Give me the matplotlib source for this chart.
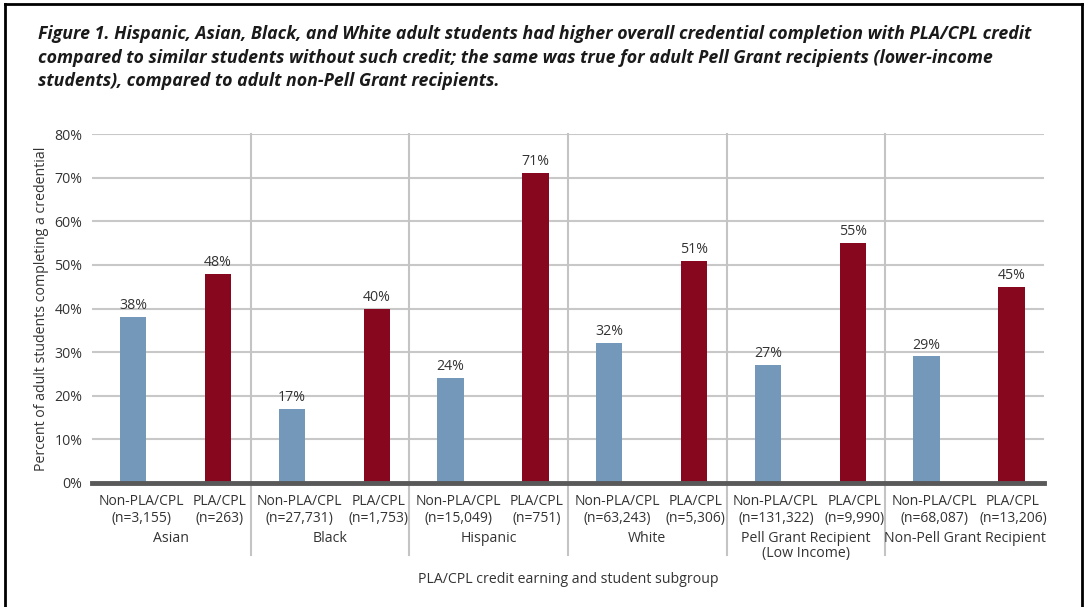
import numpy as np
import matplotlib.pyplot as plt
from matplotlib.lines import Line2D
import matplotlib.transforms as mtransforms

plt.rcParams['font.family'] = ['Open Sans', 'DejaVu Sans']

groups = ["Asian", "Black", "Hispanic", "White", "Pell Grant Recipient\n(Low Income)", "Non-Pell Grant Recipient"]
non_pla = [38, 17, 24, 32, 27, 29]
pla = [48, 40, 71, 51, 55, 45]
non_n = ["3,155", "27,731", "15,049", "63,243", "131,322", "68,087"]
pla_n = ["263", "1,753", "751", "5,306", "9,990", "13,206"]
yticks = [0, 10, 20, 30, 40, 50, 60, 70, 80]

title = ("Figure 1. Hispanic, Asian, Black, and White adult students had higher overall credential completion with PLA/CPL credit\n"
         "compared to similar students without such credit; the same was true for adult Pell Grant recipients (lower-income\n"
         "students), compared to adult non-Pell Grant recipients.")

blue = "#7398ba"
red = "#87081e"
txt = "#333333"
fs = 10.2

fig = plt.figure(figsize=(10.86, 6.07), dpi=100)
ax = fig.add_axes([0.0847, 0.2043, 0.8766, 0.5749])

x_non = np.arange(len(groups)) * 2
x_pla = x_non + 1
bw = 0.33
ax.bar(x_non + 0.02, non_pla, width=bw, color=blue, zorder=3)
ax.bar(x_pla + 0.09, pla, width=bw, color=red, zorder=3)

for xs, vals, off in [(x_non, non_pla, 0.02), (x_pla, pla, 0.09)]:
    for x, v in zip(xs, vals):
        ax.text(x + off, v + 0.9, "%d%%" % v, ha="center", va="bottom", fontsize=fs, color=txt)

ax.set_xlim(-0.5, 2 * len(groups) - 0.5)
ax.set_ylim(0, 80)
ax.set_yticks(yticks)
ax.set_yticklabels(["%d%%" % t for t in yticks], fontsize=fs, color=txt)
ax.tick_params(axis="y", length=0, pad=7)
ax.set_xticks([])
for s in ["top", "right", "left"]:
    ax.spines[s].set_visible(False)
ax.spines["bottom"].set_color("#595959")
ax.spines["bottom"].set_linewidth(3.5)
ax.spines["bottom"].set_zorder(4)
ax.grid(axis="y", color="#c8c8c8", linewidth=1.5, zorder=0)
ax.set_axisbelow(True)

trans = mtransforms.blended_transform_factory(ax.transData, ax.transAxes)
for i in range(1, len(groups)):
    xb = 2 * i - 0.5
    ax.plot([xb, xb], [1.0, -0.205], transform=trans, color="#c4c4c4", lw=1.5, clip_on=False, zorder=1)

for i, g in enumerate(groups):
    ax.text(x_non[i] + 0.12, -0.032, "Non-PLA/CPL\n(n=%s)" % non_n[i], transform=trans, ha="center", va="top",
            fontsize=10, color=txt, linespacing=1.2)
    ax.text(x_pla[i] + 0.11, -0.032, "PLA/CPL\n(n=%s)" % pla_n[i], transform=trans, ha="center", va="top",
            fontsize=10, color=txt, linespacing=1.2)
    ax.text(2 * i + 0.5, -0.137, g, transform=trans, ha="center", va="top", fontsize=fs, color=txt, linespacing=1.0)

ax.set_ylabel("Percent of adult students completing a credential", fontsize=fs, color=txt, labelpad=4)
ax.set_xlabel("PLA/CPL credit earning and student subgroup", fontsize=fs, color=txt, labelpad=64)

fig.text(0.035, 0.958, title, ha="left", va="top", fontsize=12.8, fontweight="bold", fontstyle="italic",
         color="#1a1a1a", linespacing=1.36)

# frame around the figure
fig.add_artist(Line2D([0.005, 0.005], [0.0, 0.993], color="black", lw=2))
fig.add_artist(Line2D([0.005, 0.996], [0.993, 0.993], color="black", lw=2))
fig.add_artist(Line2D([0.996, 0.996], [0.0, 0.993], color="black", lw=2))

fig.savefig("out.png", dpi=100)
